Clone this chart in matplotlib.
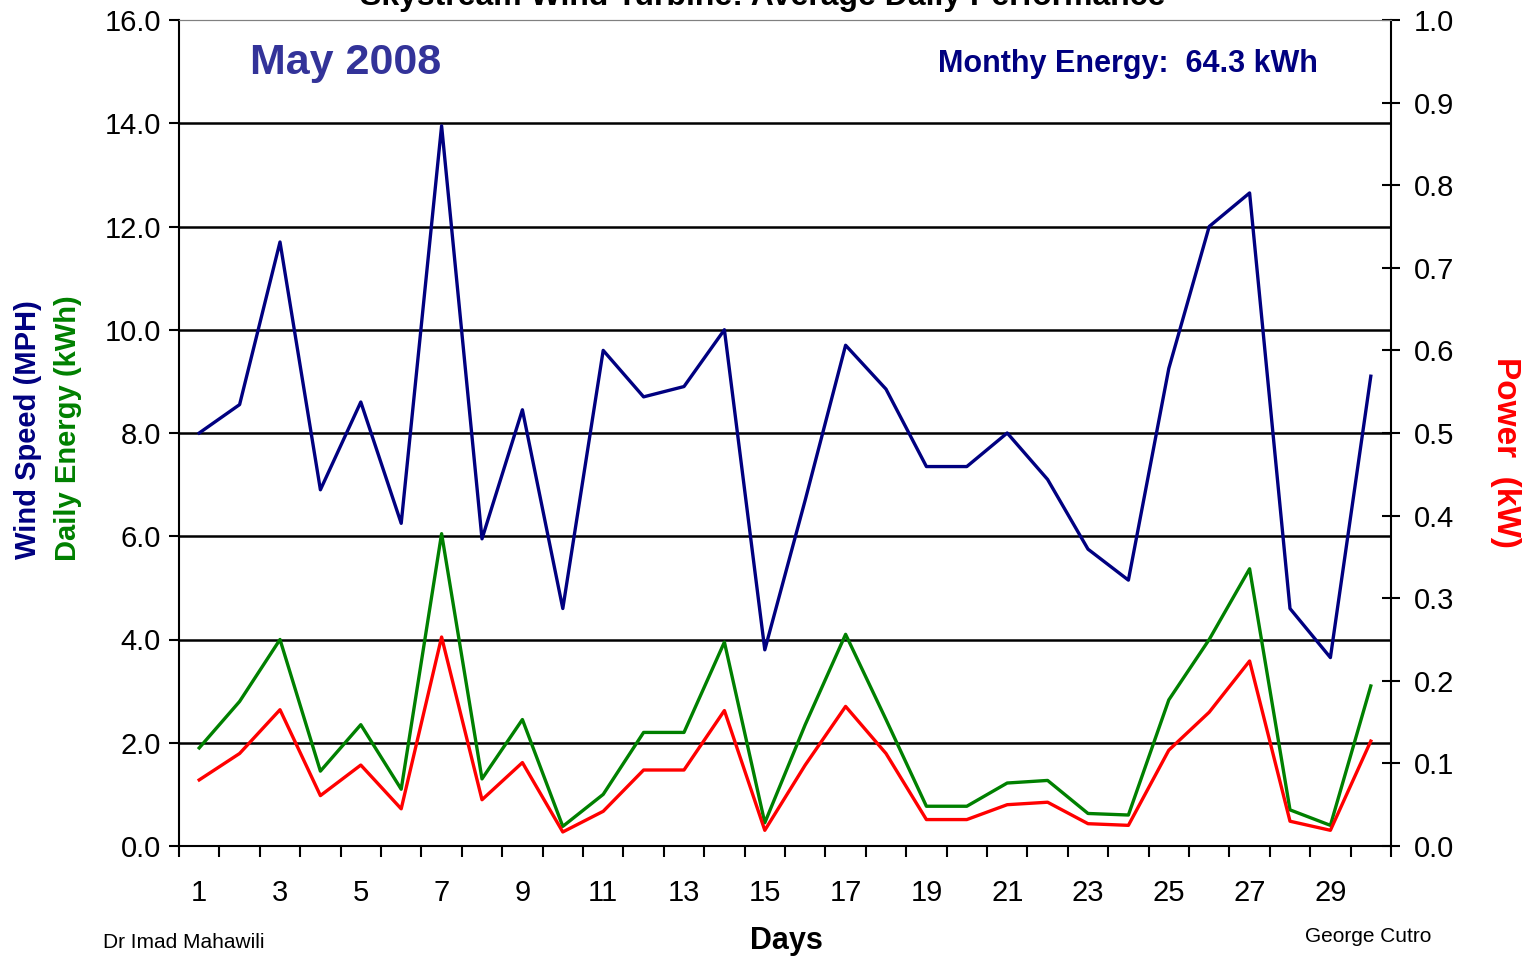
import matplotlib
matplotlib.use("Agg")
import matplotlib.pyplot as plt

plt.rcParams['font.family'] = ['Liberation Sans', 'DejaVu Sans']

days = list(range(1, 31))
wind_mph = [8.0, 8.55, 11.7, 6.9, 8.6, 6.25, 13.95, 5.95, 8.45, 4.6,
            9.6, 8.7, 8.9, 10.0, 3.8, 6.7, 9.7, 8.85, 7.35, 7.35,
            8.0, 7.1, 5.75, 5.15, 9.25, 12.0, 12.65, 4.6, 3.65, 9.1]
energy_kwh = [1.9, 2.8, 4.0, 1.45, 2.35, 1.1, 6.05, 1.3, 2.45, 0.38,
              1.0, 2.2, 2.2, 3.95, 0.45, 2.35, 4.1, 2.45, 0.77, 0.77,
              1.22, 1.27, 0.63, 0.6, 2.83, 4.0, 5.37, 0.7, 0.4, 3.1]
power_kw = [0.080, 0.112, 0.165, 0.061, 0.098, 0.045, 0.253, 0.056, 0.101, 0.017,
            0.042, 0.092, 0.092, 0.164, 0.019, 0.098, 0.169, 0.112, 0.032, 0.032,
            0.050, 0.053, 0.027, 0.025, 0.116, 0.162, 0.224, 0.030, 0.019, 0.127]

fig = plt.figure(figsize=(15.28, 9.58), dpi=100)
ax = fig.add_axes([179/1528, 1-846/958, (1391-179)/1528, (846-20)/958])
ax2 = ax.twinx()

ax.plot(days, wind_mph, color='#000080', lw=2.4, zorder=3)
ax.plot(days, energy_kwh, color='#008000', lw=2.4, zorder=3)
ax2.plot(days, power_kw, color='#ff0000', lw=2.4, zorder=3)

ax.set_xlim(0.5, 30.5)
ax.set_ylim(0, 16)
ax2.set_ylim(0, 1.0)

left_ticks = [0, 2, 4, 6, 8, 10, 12, 14, 16]
ax.set_yticks(left_ticks)
ax.set_yticklabels(['%.1f' % v for v in left_ticks], fontsize=21)
right_ticks = [i / 10 for i in range(11)]
ax2.set_yticks(right_ticks)
ax2.set_yticklabels(['%.1f' % v for v in right_ticks], fontsize=21)

# ticks sit between the days, labels on every other day
ax.set_xticks([d + 0.5 for d in range(0, 31)])
ax.set_xticklabels([])
ax.set_xticks(days[::2], minor=True)
ax.set_xticklabels([str(d) for d in days[::2]], minor=True, fontsize=21)
ax.tick_params(axis='x', which='major', direction='out', length=8, width=1.5)
ax.tick_params(axis='x', which='minor', length=0, pad=24)
ax.tick_params(axis='y', direction='out', length=7, width=1.5, pad=6)
ax2.tick_params(axis='y', direction='inout', length=13, width=1.5, pad=10)

for v in [2, 4, 6, 8, 10, 12, 14]:
    ax.axhline(v, color='black', lw=1.8, zorder=1)

for s in ['left', 'bottom']:
    ax.spines[s].set_linewidth(1.5)
ax2.spines['right'].set_linewidth(1.5)
ax.spines['top'].set_color('#808080')
ax2.spines['top'].set_color('#808080')
ax.spines['right'].set_visible(False)
ax2.spines['left'].set_visible(False)
ax2.spines['bottom'].set_visible(False)

fig.text(763/1528, 1-5/958, 'Skystream Wind Turbine: Average Daily Performance',
         ha='center', va='baseline', fontsize=23, fontweight='bold')
fig.text(250/1528, 1-63/958, 'May 2008', ha='left', va='center',
         fontsize=31, fontweight='bold', color='#333399')
fig.text(1318/1528, 1-64/958, 'Monthy Energy:  64.3 kWh', ha='right', va='center',
         fontsize=22, fontweight='bold', color='#000080')

fig.text(28/1528, 1-430/958, 'Wind Speed (MPH)', rotation=90, ha='center', va='center',
         fontsize=21, fontweight='bold', color='#000080')
fig.text(68/1528, 1-428/958, 'Daily Energy (kWh)', rotation=90, ha='center', va='center',
         fontsize=21, fontweight='bold', color='#008000')
fig.text(1505/1528, 1-452/958, 'Power  (kW)', rotation=270, ha='center', va='center',
         fontsize=24, fontweight='bold', color='#ff0000')

fig.text(786/1528, 1-941/958, 'Days', ha='center', va='center', fontsize=22,
         fontweight='bold')
fig.text(103/1528, 1-943/958, 'Dr Imad Mahawili', ha='left', va='center', fontsize=15)
fig.text(1305/1528, 1-937/958, 'George Cutro', ha='left', va='center', fontsize=15)

fig.savefig('out.png', dpi=100)
